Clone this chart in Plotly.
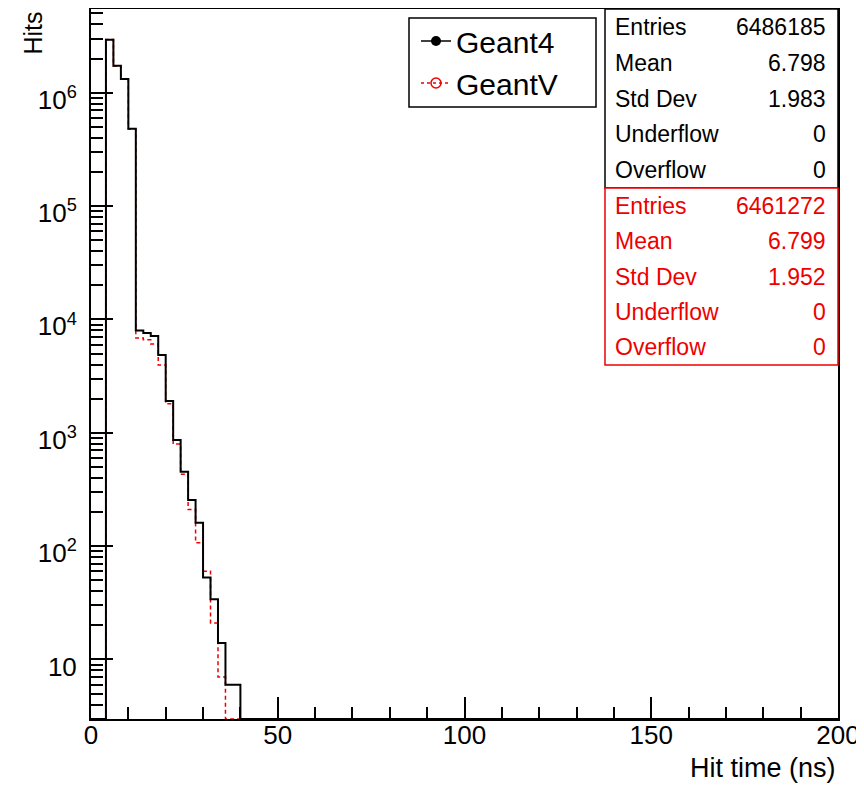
import numpy as np
import plotly.graph_objects as go

# ---------------- data ----------------
bin_width_ns = 2
x_range_ns = [0, 200]
bin_low_ns = [4, 6, 8, 10, 12, 14, 16, 18, 20, 22, 24, 26, 28, 30, 32, 34, 36, 38]
geant4_hits = [2930000, 1730000, 1320000, 480000, 7980, 7590, 7130, 4850, 1905,
               863, 453, 255, 161, 53, 34, 14, 6, 6]
geantv_hits = [2940000, 1720000, 1310000, 478000, 6840, 6600, 6070, 3960, 1800,
               795, 430, 210, 107, 60, 21, 7, 0, 0]

stat_labels = ["Entries", "Mean", "Std Dev", "Underflow", "Overflow"]
geant4_stats = ["6486185", "6.798", "1.983", "0", "0"]
geantv_stats = ["6461272", "6.799", "1.952", "0", "0"]

y_major = [10, 100, 1000, 10000, 100000, 1000000]
y_major_text = ["10", "10<sup>2</sup>", "10<sup>3</sup>", "10<sup>4</sup>",
                "10<sup>5</sup>", "10<sup>6</sup>"]
x_major = [0, 50, 100, 150, 200]
x_minor = [10, 20, 30, 40, 60, 70, 80, 90, 110, 120, 130, 140, 160, 170, 180, 190]

y_log_range = [0.475, 6.738]

# ---------------- geometry (page pixels; page body has an 8px margin) ----------------
OFF = 8
PAGE_W, PAGE_H = 864, 786
FX0, FX1, FY0, FY1 = 91, 838, 9, 719          # frame in page pixels
W, H = PAGE_W - OFF, PAGE_H - OFF
L, T = FX0 - OFF, FY0 - OFF
R, B = W - (FX1 - OFF), H - (FY1 - OFF)
pw, ph = FX1 - FX0, FY1 - FY0


def px_x(p):
    return (p - FX0) / pw


def px_y(p):
    return (FY1 - p) / ph


FONT = "Liberation Sans, Arial, Helvetica, sans-serif"
RED = "#ee0000"
floor = 10 ** y_log_range[0]

edges = np.arange(x_range_ns[0], x_range_ns[1] + bin_width_ns, bin_width_ns)


def step_arrays(lows, vals):
    full = {lo: v for lo, v in zip(lows, vals)}
    ys = [full.get(e, 0) for e in edges[:-1]]
    ys = [v if v > 0 else floor for v in ys]
    ys.append(ys[-1])
    return list(edges), ys


fig = go.Figure()

gx, gy = step_arrays(bin_low_ns, geantv_hits)
fig.add_trace(go.Scatter(x=gx, y=gy, mode="lines", line_shape="hv",
                         line=dict(color=RED, width=1.5, dash="4px,3px"),
                         showlegend=False, hoverinfo="skip"))
bx, by = step_arrays(bin_low_ns, geant4_hits)
fig.add_trace(go.Scatter(x=bx, y=by, mode="lines", line_shape="hv",
                         line=dict(color="black", width=2),
                         showlegend=False, hoverinfo="skip"))

# legend entries
fig.add_trace(go.Scatter(x=[None], y=[None], mode="lines+markers", name="Geant4",
                         line=dict(color="black", width=1.5),
                         marker=dict(symbol="circle", size=10, color="black")))
fig.add_trace(go.Scatter(x=[None], y=[None], mode="lines+markers", name="GeantV",
                         line=dict(color=RED, width=1.5, dash="dot"),
                         marker=dict(symbol="circle-open", size=10, color=RED,
                                     line=dict(width=1.5))))

minor_y = []
for d in range(0, 7):
    for m in range(2, 10):
        v = m * 10 ** d
        if y_log_range[0] <= np.log10(v) <= y_log_range[1]:
            minor_y.append(v)

fig.update_layout(
    width=W, height=H,
    margin=dict(l=L, r=R, t=T, b=B, autoexpand=False),
    paper_bgcolor="white", plot_bgcolor="white",
    font=dict(family=FONT, color="black"),
    xaxis=dict(range=x_range_ns, showgrid=False, zeroline=False,
               showline=True, linecolor="black", linewidth=2, mirror=True,
               tickmode="array", tickvals=x_major, ticktext=[str(v) for v in x_major],
               ticks="inside", ticklen=22, tickwidth=1.5, tickcolor="black",
               tickfont=dict(size=26, family=FONT), ticklabelstandoff=-8,
               minor=dict(tickmode="array", tickvals=x_minor, ticks="inside",
                          ticklen=12, tickwidth=1.5, tickcolor="black", showgrid=False)),
    yaxis=dict(type="log", range=y_log_range, showgrid=False, zeroline=False,
               showline=True, linecolor="black", linewidth=2, mirror=True,
               tickmode="array", tickvals=y_major, ticktext=y_major_text,
               ticks="inside", ticklen=22, tickwidth=1.5, tickcolor="black",
               tickfont=dict(size=26, family=FONT), ticklabelstandoff=7,
               ticklabelshift=7,
               minor=dict(tickmode="array", tickvals=minor_y, ticks="inside",
                          ticklen=12, tickwidth=1.5, tickcolor="black", showgrid=False)),
    legend=dict(x=px_x(416), y=px_y(15), xanchor="left", yanchor="top",
                bgcolor="rgba(0,0,0,0)", borderwidth=0,
                font=dict(size=30, family=FONT)),
)

# legend frame
fig.add_shape(type="rect", xref="paper", yref="paper",
              x0=px_x(409), x1=px_x(596), y0=px_y(107), y1=px_y(18),
              line=dict(color="black", width=1.5), fillcolor="white", layer="above")

# stats boxes
box_x0, box_x1 = px_x(605), 1.0
boxes = [(9, 188, "black", geant4_stats), (188, 365, RED, geantv_stats)]
for top, bot, col, vals in boxes:
    fig.add_shape(type="rect", xref="paper", yref="paper",
                  x0=box_x0, x1=box_x1, y0=px_y(bot), y1=px_y(top),
                  line=dict(color=col, width=1.5), fillcolor="white", layer="above")
    rh = (bot - top) / len(stat_labels)
    for i, (lab, val) in enumerate(zip(stat_labels, vals)):
        yc = px_y(top + rh * (i + 0.5))
        fig.add_annotation(xref="paper", yref="paper", x=px_x(613), y=yc,
                           xanchor="left", yanchor="middle", text=lab, showarrow=False,
                           font=dict(size=23, color=col, family=FONT))
        fig.add_annotation(xref="paper", yref="paper", x=px_x(828), y=yc,
                           xanchor="right", yanchor="middle", text=val, showarrow=False,
                           font=dict(size=23, color=col, family=FONT))

# axis titles
fig.add_annotation(xref="paper", yref="paper", x=1.0, y=px_y(768),
                   xanchor="right", yanchor="middle", text="Hit time (ns)",
                   showarrow=False, font=dict(size=27, family=FONT))
fig.add_annotation(xref="paper", yref="paper", x=px_x(32), y=px_y(10),
                   xanchor="center", yanchor="top", text="Hits", textangle=-90,
                   showarrow=False, font=dict(size=25, family=FONT))

fig.write_html("out.html")
